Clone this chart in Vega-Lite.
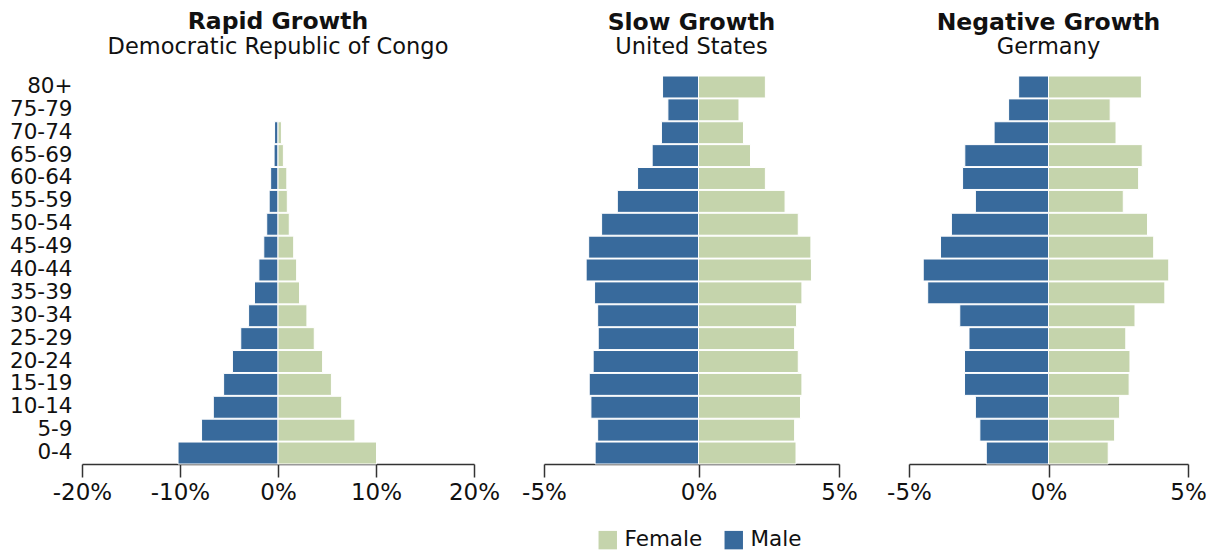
{
  "$schema": "https://vega.github.io/schema/vega-lite/v6.json",
  "padding": {"left": 9, "top": 10, "right": 5, "bottom": 5},
  "config": {
    "font": "DejaVu Sans",
    "view": {"stroke": null},
    "title": {"fontSize": 23.5, "fontWeight": "bold", "color": "#111", "subtitleFontSize": 22.5, "subtitleColor": "#111", "subtitlePadding": 2, "offset": 17, "anchor": "middle", "frame": "group"},
    "axisX": {"domainColor": "#333", "domainWidth": 1.5, "tickColor": "#333", "tickWidth": 1.5, "tickSize": 13, "labelFontSize": 23, "labelColor": "#111", "labelPadding": 4, "labelFlush": false, "labelOverlap": false, "grid": false, "title": null},
    "legend": {"title": null, "symbolType": "square", "symbolSize": 340, "symbolStrokeWidth": 0, "symbolOpacity": 1, "labelFontSize": 21.5, "labelColor": "#111", "labelOffset": 6, "columnPadding": 20}
  },
  "datasets": {
    "congo": [
      {"age": "0-4", "sex": "Male", "pct": -10.2}, {"age": "0-4", "sex": "Female", "pct": 10.05},
      {"age": "5-9", "sex": "Male", "pct": -7.8}, {"age": "5-9", "sex": "Female", "pct": 7.85},
      {"age": "10-14", "sex": "Male", "pct": -6.6}, {"age": "10-14", "sex": "Female", "pct": 6.5},
      {"age": "15-19", "sex": "Male", "pct": -5.55}, {"age": "15-19", "sex": "Female", "pct": 5.45},
      {"age": "20-24", "sex": "Male", "pct": -4.65}, {"age": "20-24", "sex": "Female", "pct": 4.55},
      {"age": "25-29", "sex": "Male", "pct": -3.8}, {"age": "25-29", "sex": "Female", "pct": 3.7},
      {"age": "30-34", "sex": "Male", "pct": -3.0}, {"age": "30-34", "sex": "Female", "pct": 2.95},
      {"age": "35-39", "sex": "Male", "pct": -2.4}, {"age": "35-39", "sex": "Female", "pct": 2.2},
      {"age": "40-44", "sex": "Male", "pct": -1.95}, {"age": "40-44", "sex": "Female", "pct": 1.9},
      {"age": "45-49", "sex": "Male", "pct": -1.45}, {"age": "45-49", "sex": "Female", "pct": 1.6},
      {"age": "50-54", "sex": "Male", "pct": -1.15}, {"age": "50-54", "sex": "Female", "pct": 1.15},
      {"age": "55-59", "sex": "Male", "pct": -0.9}, {"age": "55-59", "sex": "Female", "pct": 0.95},
      {"age": "60-64", "sex": "Male", "pct": -0.75}, {"age": "60-64", "sex": "Female", "pct": 0.9},
      {"age": "65-69", "sex": "Male", "pct": -0.4}, {"age": "65-69", "sex": "Female", "pct": 0.55},
      {"age": "70-74", "sex": "Male", "pct": -0.35}, {"age": "70-74", "sex": "Female", "pct": 0.35},
      {"age": "75-79", "sex": "Male", "pct": -0.05}, {"age": "75-79", "sex": "Female", "pct": 0.05},
      {"age": "80+", "sex": "Male", "pct": 0}, {"age": "80+", "sex": "Female", "pct": 0}
    ],
    "us": [
      {"age": "0-4", "sex": "Male", "pct": -3.68}, {"age": "0-4", "sex": "Female", "pct": 3.47},
      {"age": "5-9", "sex": "Male", "pct": -3.59}, {"age": "5-9", "sex": "Female", "pct": 3.42},
      {"age": "10-14", "sex": "Male", "pct": -3.83}, {"age": "10-14", "sex": "Female", "pct": 3.63},
      {"age": "15-19", "sex": "Male", "pct": -3.89}, {"age": "15-19", "sex": "Female", "pct": 3.68},
      {"age": "20-24", "sex": "Male", "pct": -3.75}, {"age": "20-24", "sex": "Female", "pct": 3.55},
      {"age": "25-29", "sex": "Male", "pct": -3.57}, {"age": "25-29", "sex": "Female", "pct": 3.42},
      {"age": "30-34", "sex": "Male", "pct": -3.59}, {"age": "30-34", "sex": "Female", "pct": 3.49},
      {"age": "35-39", "sex": "Male", "pct": -3.7}, {"age": "35-39", "sex": "Female", "pct": 3.68},
      {"age": "40-44", "sex": "Male", "pct": -4.0}, {"age": "40-44", "sex": "Female", "pct": 4.02},
      {"age": "45-49", "sex": "Male", "pct": -3.91}, {"age": "45-49", "sex": "Female", "pct": 4.0},
      {"age": "50-54", "sex": "Male", "pct": -3.45}, {"age": "50-54", "sex": "Female", "pct": 3.55},
      {"age": "55-59", "sex": "Male", "pct": -2.89}, {"age": "55-59", "sex": "Female", "pct": 3.08},
      {"age": "60-64", "sex": "Male", "pct": -2.17}, {"age": "60-64", "sex": "Female", "pct": 2.38},
      {"age": "65-69", "sex": "Male", "pct": -1.65}, {"age": "65-69", "sex": "Female", "pct": 1.85},
      {"age": "70-74", "sex": "Male", "pct": -1.32}, {"age": "70-74", "sex": "Female", "pct": 1.6},
      {"age": "75-79", "sex": "Male", "pct": -1.09}, {"age": "75-79", "sex": "Female", "pct": 1.44},
      {"age": "80+", "sex": "Male", "pct": -1.28}, {"age": "80+", "sex": "Female", "pct": 2.38}
    ],
    "de": [
      {"age": "0-4", "sex": "Male", "pct": -2.23}, {"age": "0-4", "sex": "Female", "pct": 2.14},
      {"age": "5-9", "sex": "Male", "pct": -2.46}, {"age": "5-9", "sex": "Female", "pct": 2.37},
      {"age": "10-14", "sex": "Male", "pct": -2.62}, {"age": "10-14", "sex": "Female", "pct": 2.55},
      {"age": "15-19", "sex": "Male", "pct": -3.01}, {"age": "15-19", "sex": "Female", "pct": 2.89},
      {"age": "20-24", "sex": "Male", "pct": -3.01}, {"age": "20-24", "sex": "Female", "pct": 2.92},
      {"age": "25-29", "sex": "Male", "pct": -2.85}, {"age": "25-29", "sex": "Female", "pct": 2.77},
      {"age": "30-34", "sex": "Male", "pct": -3.18}, {"age": "30-34", "sex": "Female", "pct": 3.1},
      {"age": "35-39", "sex": "Male", "pct": -4.33}, {"age": "35-39", "sex": "Female", "pct": 4.17},
      {"age": "40-44", "sex": "Male", "pct": -4.49}, {"age": "40-44", "sex": "Female", "pct": 4.31},
      {"age": "45-49", "sex": "Male", "pct": -3.87}, {"age": "45-49", "sex": "Female", "pct": 3.77},
      {"age": "50-54", "sex": "Male", "pct": -3.48}, {"age": "50-54", "sex": "Female", "pct": 3.55},
      {"age": "55-59", "sex": "Male", "pct": -2.62}, {"age": "55-59", "sex": "Female", "pct": 2.68},
      {"age": "60-64", "sex": "Male", "pct": -3.08}, {"age": "60-64", "sex": "Female", "pct": 3.23},
      {"age": "65-69", "sex": "Male", "pct": -3.0}, {"age": "65-69", "sex": "Female", "pct": 3.36},
      {"age": "70-74", "sex": "Male", "pct": -1.95}, {"age": "70-74", "sex": "Female", "pct": 2.42},
      {"age": "75-79", "sex": "Male", "pct": -1.43}, {"age": "75-79", "sex": "Female", "pct": 2.21},
      {"age": "80+", "sex": "Male", "pct": -1.07}, {"age": "80+", "sex": "Female", "pct": 3.33}
    ]
  },
  "bounds": "flush",
  "spacing": 70,
  "resolve": {"scale": {"x": "independent"}},
  "hconcat": [
    {
      "width": 392, "height": 388,
      "data": {"name": "congo"},
      "title": {"text": "Rapid Growth", "subtitle": "Democratic Republic of Congo"},
      "mark": {"type": "bar", "stroke": "white", "strokeWidth": 1},
      "encoding": {
        "y": {"field": "age", "type": "ordinal", "sort": ["80+", "75-79", "70-74", "65-69", "60-64", "55-59", "50-54", "45-49", "40-44", "35-39", "30-34", "25-29", "20-24", "15-19", "10-14", "5-9", "0-4"], "scale": {"paddingInner": 0.04, "paddingOuter": 0}, "axis": {"title": null, "domain": false, "ticks": false, "labelFontSize": 21.5, "labelColor": "#111", "labelPadding": 10}},
        "x": {"field": "pct", "type": "quantitative", "scale": {"domain": [-20, 20], "nice": false}, "axis": {"values": [-20, -10, 0, 10, 20], "labelExpr": "datum.value + '%'"}},
        "color": {"field": "sex", "type": "nominal", "scale": {"domain": ["Female", "Male"], "range": ["#c5d4ac", "#386a9c"]}, "legend": {"orient": "none", "direction": "horizontal", "legendX": 515, "legendY": 453}}
      }
    },
    {
      "width": 295, "height": 388,
      "data": {"name": "us"},
      "title": {"text": "Slow Growth", "subtitle": "United States"},
      "mark": {"type": "bar", "stroke": "white", "strokeWidth": 1},
      "encoding": {
        "y": {"field": "age", "type": "ordinal", "sort": ["80+", "75-79", "70-74", "65-69", "60-64", "55-59", "50-54", "45-49", "40-44", "35-39", "30-34", "25-29", "20-24", "15-19", "10-14", "5-9", "0-4"], "scale": {"paddingInner": 0.04, "paddingOuter": 0}, "axis": null},
        "x": {"field": "pct", "type": "quantitative", "scale": {"domain": [-5.5, 5], "nice": false}, "axis": {"values": [-5.5, 0, 5], "labelExpr": "datum.value < -5 ? '-5%' : datum.value + '%'"}},
        "color": {"field": "sex", "type": "nominal", "scale": {"domain": ["Female", "Male"], "range": ["#c5d4ac", "#386a9c"]}}
      }
    },
    {
      "width": 279, "height": 388,
      "data": {"name": "de"},
      "title": {"text": "Negative Growth", "subtitle": "Germany"},
      "mark": {"type": "bar", "stroke": "white", "strokeWidth": 1},
      "encoding": {
        "y": {"field": "age", "type": "ordinal", "sort": ["80+", "75-79", "70-74", "65-69", "60-64", "55-59", "50-54", "45-49", "40-44", "35-39", "30-34", "25-29", "20-24", "15-19", "10-14", "5-9", "0-4"], "scale": {"paddingInner": 0.04, "paddingOuter": 0}, "axis": null},
        "x": {"field": "pct", "type": "quantitative", "scale": {"domain": [-5, 5], "nice": false}, "axis": {"values": [-5, 0, 5], "labelExpr": "datum.value + '%'"}},
        "color": {"field": "sex", "type": "nominal", "scale": {"domain": ["Female", "Male"], "range": ["#c5d4ac", "#386a9c"]}}
      }
    }
  ]
}
